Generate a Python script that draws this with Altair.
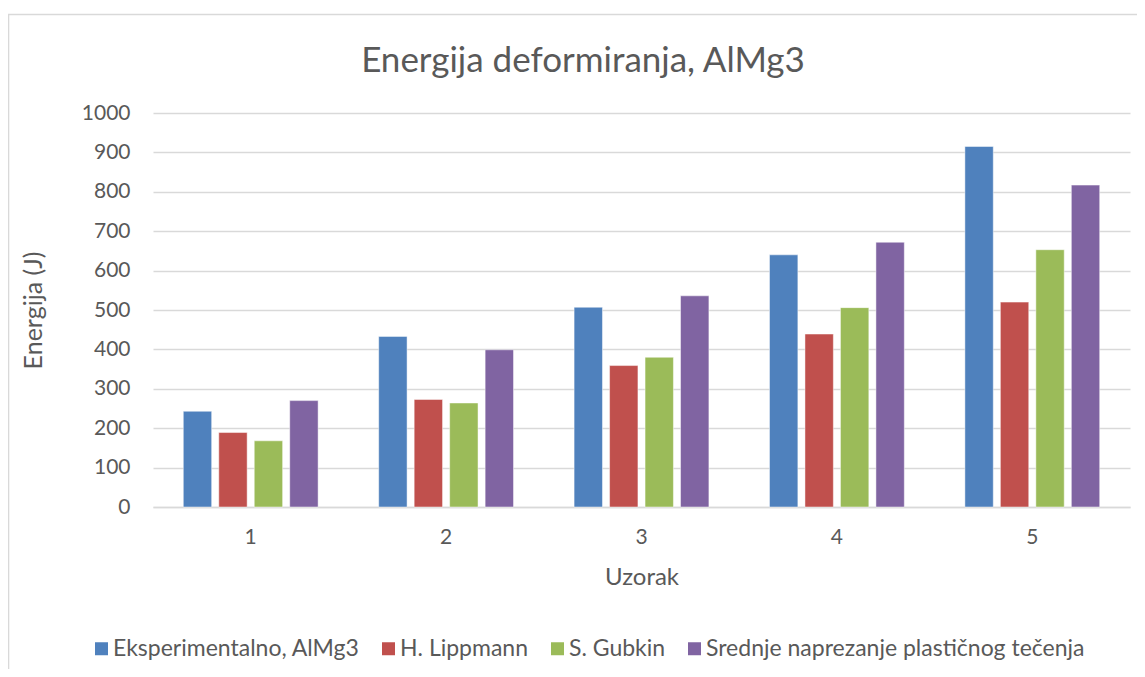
import altair as alt
import pandas as pd

categories = ["1", "2", "3", "4", "5"]
series_names = [
    "Eksperimentalno, AlMg3",
    "H. Lippmann",
    "S. Gubkin",
    "Srednje naprezanje plastičnog tečenja",
]
eksperimentalno = [243, 433, 507, 640, 915]
lippmann = [189, 273, 359, 439, 520]
gubkin = [168, 264, 380, 506, 653]
srednje = [270, 399, 536, 672, 817]
colors = ["#4F81BD", "#C0504D", "#9BBB59", "#8064A2"]
y_ticks = list(range(0, 1001, 100))
chart_title = "Energija deformiranja, AlMg3"

rows = []
for name, vals in zip(series_names, [eksperimentalno, lippmann, gubkin, srednje]):
    for c, v in zip(categories, vals):
        rows.append({"Uzorak": c, "Serija": name, "Energija": v})
df = pd.DataFrame(rows)

FONT = "Lato"
GREY = "#595959"
BORDER = "#D9D9D9"

bars = (
    alt.Chart(df)
    .mark_bar(stroke="white", strokeWidth=0.8, strokeOpacity=0.6)
    .encode(
        x=alt.X(
            "Uzorak:N",
            sort=categories,
            scale=alt.Scale(paddingInner=0.31, paddingOuter=0.155),
            axis=alt.Axis(
                title="Uzorak",
                labelAngle=0,
                ticks=False,
                labelPadding=19,
                labelFontSize=21,
                titleFontSize=24,
                titleFontWeight="normal",
                titleY=70,
                titleBaseline="middle",
                domainColor="#D9D9D9",
                domainWidth=1.5,
                grid=False,
            ),
        ),
        xOffset=alt.XOffset(
            "Serija:N",
            sort=series_names,
            scale=alt.Scale(paddingInner=0.2, paddingOuter=0),
        ),
        y=alt.Y(
            "Energija:Q",
            scale=alt.Scale(domain=[0, 1000], nice=False),
            axis=alt.Axis(
                title="Energija (J)",
                values=y_ticks,
                format="d",
                ticks=False,
                domain=False,
                labelPadding=23,
                labelFontSize=21,
                titleFontSize=25,
                titleFontWeight="normal",
                titleX=-120,
                titleY=197,
                titleAlign="center",
                titleBaseline="middle",
                gridColor="#D9D9D9",
                gridWidth=1.5,
            ),
        ),
        color=alt.Color(
            "Serija:N",
            sort=series_names,
            scale=alt.Scale(domain=series_names, range=colors),
            legend=alt.Legend(
                title=None,
                orient="none",
                direction="horizontal",
                legendX=-63,
                legendY=524,
                symbolType="square",
                symbolSize=169,
                symbolStrokeWidth=0,
                labelFontSize=23,
                labelOffset=0,
                columnPadding=17,
                labelLimit=600,
            ),
        ),
    )
)

frame_df = pd.DataFrame({"k": [0]})
top_border = alt.Chart(frame_df).mark_rule(color=BORDER, strokeWidth=1.6).encode(
    x=alt.value(-145), x2=alt.value(984), y=alt.value(-98.5)
)
left_border = alt.Chart(frame_df).mark_rule(color=BORDER, strokeWidth=1.6).encode(
    x=alt.value(-144.5), y=alt.value(-99), y2=alt.value(556)
)
title_text = alt.Chart(frame_df).mark_text(
    fontSize=35, color=GREY, align="center", baseline="middle", font=FONT
).encode(x=alt.value(430), y=alt.value(-52), text=alt.value(chart_title))

chart = (
    alt.layer(top_border, left_border, title_text, bars)
    .properties(
        width=977,
        height=394,
        padding={"left": 145, "top": 105, "right": 7, "bottom": 162},
        autosize=alt.AutoSizeParams(type="none"),
    )
    .configure(font=FONT)
    .configure_axis(labelColor=GREY, titleColor=GREY, labelFont=FONT, titleFont=FONT)
    .configure_legend(labelColor=GREY, labelFont=FONT)
    .configure_view(stroke=None)
)

chart.save("out.html", embed_options={"renderer": "svg", "actions": False})
